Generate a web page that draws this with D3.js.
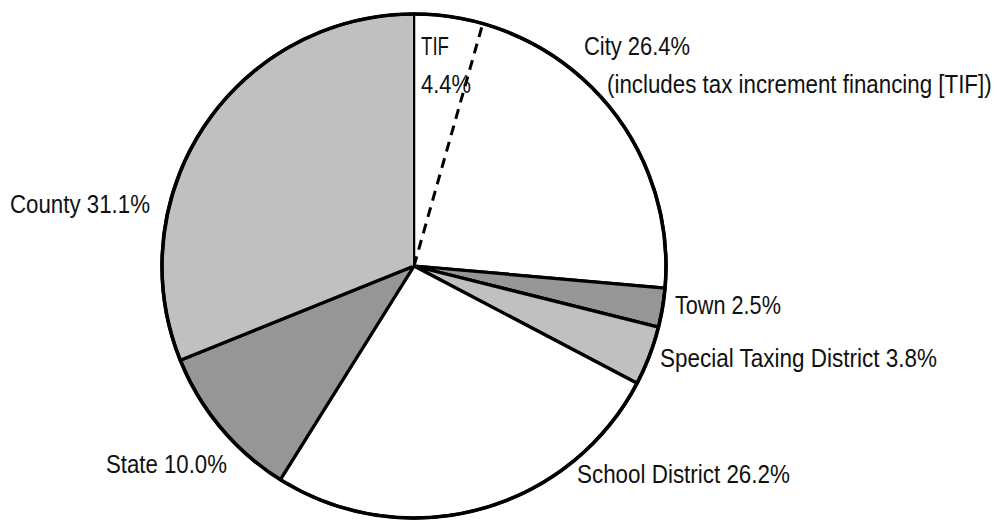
<!DOCTYPE html>
<html>
<head>
<meta charset="utf-8">
<script src="https://cdn.jsdelivr.net/npm/d3@7"></script>
<style>
  html, body { margin: 0; padding: 0; background: #fff; }
  svg { display: block; }
  text { font-family: "Liberation Sans Narrow", "Arial Narrow", "Liberation Sans", Arial, sans-serif; fill: #111; }
</style>
</head>
<body>
<svg id="chart" width="999" height="521"></svg>
<script>
// Property tax shares by taxing body (percent of total)
const categories = ["City", "Town", "Special Taxing District", "School District", "State", "County"];
const shares = [26.4, 2.5, 3.8, 26.2, 10.0, 31.1];
const fills = ["#ffffff", "#969696", "#c0c0c0", "#ffffff", "#969696", "#c0c0c0"];
// Tax increment financing portion carved out of the City share
const tifShare = 4.4;

const width = 999, height = 521;
const cx = 414, cy = 266, radius = 252;

const svg = d3.select("#chart");
const g = svg.append("g").attr("transform", `translate(${cx},${cy})`);

const data = categories.map((c, i) => ({ name: c, value: shares[i], fill: fills[i] }));
const pie = d3.pie().value(d => d.value).sort(null).startAngle(0).endAngle(2 * Math.PI);
const arcs = pie(data);
const arc = d3.arc().innerRadius(0).outerRadius(radius);

// slices
g.selectAll("path.slice")
  .data(arcs)
  .join("path")
  .attr("class", "slice")
  .attr("d", arc)
  .attr("fill", d => d.data.fill)
  .attr("stroke", "#000")
  .attr("stroke-width", 3.2)
  .attr("stroke-linejoin", "round");

// thinner radius where County meets the top of the City/TIF share
g.append("line")
  .attr("x1", 0).attr("y1", 0)
  .attr("x2", 0).attr("y2", -radius)
  .attr("stroke", "#ffffff").attr("stroke-width", 3.4);
g.append("line")
  .attr("x1", 0).attr("y1", 0)
  .attr("x2", 0).attr("y2", -radius)
  .attr("stroke", "#000").attr("stroke-width", 2);

// dashed divider for the TIF part of the City share
const total = d3.sum(shares);
const tifAngle = tifShare / total * 2 * Math.PI;
g.append("line")
  .attr("x1", 0).attr("y1", 0)
  .attr("x2", radius * Math.sin(tifAngle))
  .attr("y2", -radius * Math.cos(tifAngle))
  .attr("stroke", "#000")
  .attr("stroke-width", 3)
  .attr("stroke-dasharray", "10,7");

// outer rim
g.append("circle")
  .attr("r", radius)
  .attr("fill", "none")
  .attr("stroke", "#000")
  .attr("stroke-width", 3.6);

// labels, condensed horizontally to a narrow face
const labels = [
  { t: "TIF", x: 421, y: 55, w: 28 },
  { t: tifShare.toFixed(1) + "%", x: 421, y: 93, w: 50 },
  { t: "City " + shares[0].toFixed(1) + "%", x: 584, y: 55, w: 106 },
  { t: "(includes tax increment financing [TIF])", x: 607, y: 93, w: 385 },
  { t: "Town " + shares[1].toFixed(1) + "%", x: 675, y: 314, w: 106 },
  { t: "Special Taxing District " + shares[2].toFixed(1) + "%", x: 660, y: 367, w: 277 },
  { t: "School District " + shares[3].toFixed(1) + "%", x: 577, y: 483, w: 213 },
  { t: "State " + shares[4].toFixed(1) + "%", x: 106, y: 473, w: 121 },
  { t: "County " + shares[5].toFixed(1) + "%", x: 10, y: 213, w: 140 }
];

const lbl = svg.selectAll("g.lbl")
  .data(labels)
  .join("g")
  .attr("class", "lbl");

lbl.append("text")
  .attr("x", 0)
  .attr("y", 0)
  .attr("font-size", 25)
  .text(d => d.t);

lbl.each(function(d) {
  const natural = d3.select(this).select("text").node().getComputedTextLength();
  const sx = d.w / natural;
  d3.select(this).attr("transform", `translate(${d.x},${d.y}) scale(${sx},1)`);
});
</script>
</body>
</html>
